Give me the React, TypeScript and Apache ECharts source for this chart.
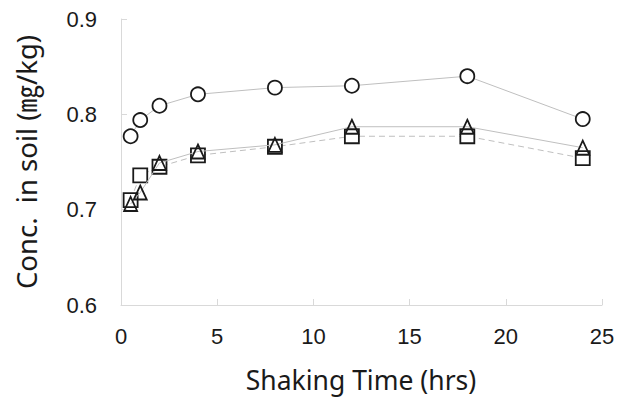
import React, { useEffect, useRef } from "react";
import * as echarts from "echarts";

const hours = [0.5, 1, 2, 4, 8, 12, 18, 24];
const circleSeries = [0.777, 0.794, 0.809, 0.821, 0.828, 0.830, 0.840, 0.795];
const triangleSeries = [0.706, 0.718, 0.749, 0.761, 0.768, 0.787, 0.787, 0.765];
const squareSeries = [0.710, 0.736, 0.745, 0.757, 0.766, 0.777, 0.777, 0.754];
const xTitle = "Shaking Time (hrs)";
const yTitle = "Conc.  in soil (㎎/kg)";

const FONT = "'Noto Sans', 'Noto Sans CJK KR', sans-serif";
const TICK_FONT = "'Liberation Sans', Arial, sans-serif";

export default function App() {
  const ref = useRef<HTMLDivElement>(null);
  useEffect(() => {
    if (!ref.current) return;
    const chart = echarts.init(ref.current, null, { renderer: "svg" });
    const mk = (vals: number[]) => hours.map((h, i) => [h, vals[i]]);
    const lineColor = "#bfbfbf";
    const itemStyle = { color: "#ffffff", borderColor: "#1a1a1a", borderWidth: 1.8 };
    chart.setOption({
      animation: false,
      backgroundColor: "#ffffff",
      grid: { left: 121, right: 25, top: 19, bottom: 92 },
      xAxis: {
        type: "value",
        min: 0,
        max: 25,
        interval: 5,
        axisLine: { show: true, lineStyle: { color: "#d9d9d9", width: 1 } },
        axisTick: { show: true, inside: true, length: 6, lineStyle: { color: "#d9d9d9" } },
        splitLine: { show: false },
        axisLabel: { color: "#1a1a1a", fontSize: 22, fontFamily: TICK_FONT, margin: 20 },
      },
      yAxis: {
        type: "value",
        min: 0.6,
        max: 0.9,
        interval: 0.1,
        axisLine: { show: true, lineStyle: { color: "#d9d9d9", width: 1 } },
        axisTick: { show: true, inside: true, length: 6, lineStyle: { color: "#d9d9d9" } },
        splitLine: { show: false },
        axisLabel: {
          color: "#1a1a1a",
          fontSize: 22,
          fontFamily: TICK_FONT,
          margin: 24,
          formatter: (v: number) => v.toFixed(1),
        },
      },
      graphic: [
        {
          type: "text",
          x: 361,
          y: 380,
          style: {
            text: xTitle,
            fontSize: 26.5,
            lineHeight: 28,
            fontFamily: FONT,
            fill: "#1a1a1a",
            align: "center",
            verticalAlign: "middle",
          },
        },
        {
          type: "text",
          x: 26,
          y: 162,
          rotation: Math.PI / 2,
          style: {
            text: yTitle,
            fontSize: 27.5,
            fontFamily: FONT,
            fill: "#1a1a1a",
            align: "center",
            verticalAlign: "middle",
          },
        },
      ],
      series: [
        {
          type: "line",
          data: mk(circleSeries),
          symbol: "circle",
          symbolSize: 14,
          lineStyle: { color: lineColor, width: 1 },
          itemStyle,
          z: 3,
        },
        {
          type: "line",
          data: mk(squareSeries),
          symbol: "rect",
          symbolSize: 14,
          lineStyle: { color: lineColor, width: 1, type: [6, 4] },
          itemStyle,
          z: 3,
        },
        {
          type: "line",
          data: mk(triangleSeries),
          symbol: "triangle",
          symbolSize: [13, 14],
          lineStyle: { color: lineColor, width: 1 },
          itemStyle: { ...itemStyle, color: "transparent" },
          z: 4,
        },
      ],
    });
    return () => chart.dispose();
  }, []);
  return <div ref={ref} style={{ width: 627, height: 397, position: "absolute", left: 0, top: 0 }} />;
}
